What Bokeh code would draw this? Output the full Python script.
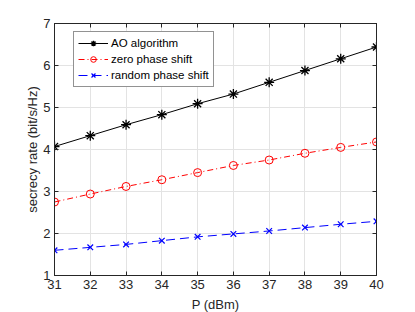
from bokeh.plotting import figure
from bokeh.models import Range1d, LinearAxis, FixedTicker, Legend, LegendItem, CustomJSTickFormatter
from bokeh.embed import file_html
from bokeh.resources import INLINE

P_dbm = [31, 32, 33, 34, 35, 36, 37, 38, 39, 40]
ao_algorithm = [4.07, 4.33, 4.59, 4.83, 5.09, 5.32, 5.60, 5.88, 6.16, 6.44]
zero_phase = [2.75, 2.94, 3.12, 3.28, 3.45, 3.62, 3.75, 3.91, 4.05, 4.18]
random_phase = [1.60, 1.67, 1.74, 1.83, 1.92, 1.99, 2.06, 2.14, 2.22, 2.29]
x_ticks = list(range(31, 41))
y_ticks = [1, 2, 3, 4, 5, 6, 7]

FONT = "Liberation Sans"
AX = "#262626"

p = figure(frame_width=322, frame_height=252, output_backend="svg", toolbar_location=None,
           x_range=Range1d(31, 40), y_range=Range1d(1, 7),
           min_border_left=54, min_border_right=39, min_border_top=23, min_border_bottom=37)
p.background_fill_color = "white"
p.border_fill_color = "white"
p.outline_line_color = AX
p.outline_line_width = 1

xax = p.below[0]
yax = p.left[0]
for ax in (xax, yax):
    ax.major_tick_in = 4
    ax.major_tick_out = 0
    ax.minor_tick_line_color = None
    ax.axis_line_color = AX
    ax.major_tick_line_color = AX
    ax.major_label_text_font = FONT
    ax.major_label_text_font_size = "13px"
    ax.major_label_text_color = AX
    ax.axis_label_text_font = FONT
    ax.axis_label_text_font_size = "13px"
    ax.axis_label_text_font_style = "normal"
    ax.axis_label_text_color = AX
xax.ticker = FixedTicker(ticks=x_ticks)
yax.ticker = FixedTicker(ticks=y_ticks)
xax.axis_label = "P (dBm)"
yax.axis_label = "secrecy rate (bit/s/Hz)"
xax.major_label_standoff = 4
yax.major_label_standoff = 4
xax.axis_label_standoff = 5
yax.axis_label_standoff = 0

top_ax = LinearAxis(ticker=FixedTicker(ticks=x_ticks), formatter=CustomJSTickFormatter(code="return ''"))
right_ax = LinearAxis(ticker=FixedTicker(ticks=y_ticks), formatter=CustomJSTickFormatter(code="return ''"))
for ax in (top_ax, right_ax):
    ax.major_label_standoff = 0
    ax.major_tick_in = 4
    ax.major_tick_out = 0
    ax.minor_tick_line_color = None
    ax.axis_line_color = AX
    ax.major_tick_line_color = AX
p.add_layout(top_ax, "above")
p.add_layout(right_ax, "right")

p.xgrid.ticker = FixedTicker(ticks=x_ticks)
p.ygrid.ticker = FixedTicker(ticks=y_ticks)
p.grid.grid_line_color = "#e3e3e3"
p.grid.grid_line_width = 1

r1 = p.line(P_dbm, ao_algorithm, line_color="black", line_width=1)
m1 = p.scatter(P_dbm, ao_algorithm, marker="asterisk", size=10, line_color="black", line_width=1.3)
r2 = p.line(P_dbm, zero_phase, line_color="red", line_width=1, line_dash="6 3 1 3")
m2 = p.scatter(P_dbm, zero_phase, marker="circle", size=8, line_color="red", fill_color=None, line_width=1)
r3 = p.line(P_dbm, random_phase, line_color="blue", line_width=1, line_dash="9 5")
m3 = p.scatter(P_dbm, random_phase, marker="x", size=8, line_color="blue", line_width=1.2)

legend = Legend(items=[
    LegendItem(label="AO algorithm", renderers=[r1, m1]),
    LegendItem(label="zero phase shift", renderers=[r2, m2]),
    LegendItem(label="random phase shift", renderers=[r3, m3]),
], location=(19, 188))
legend.label_text_font = FONT
legend.label_text_font_size = "11.5px"
legend.label_text_color = "black"
legend.glyph_width = 30
legend.glyph_height = 14
legend.label_height = 14
legend.spacing = 2
legend.padding = 4
legend.margin = 0
legend.label_standoff = 3
legend.border_line_color = AX
legend.border_line_width = 1
legend.background_fill_alpha = 1
p.add_layout(legend, "center")

open("out.html", "w").write(file_html(p, INLINE))
